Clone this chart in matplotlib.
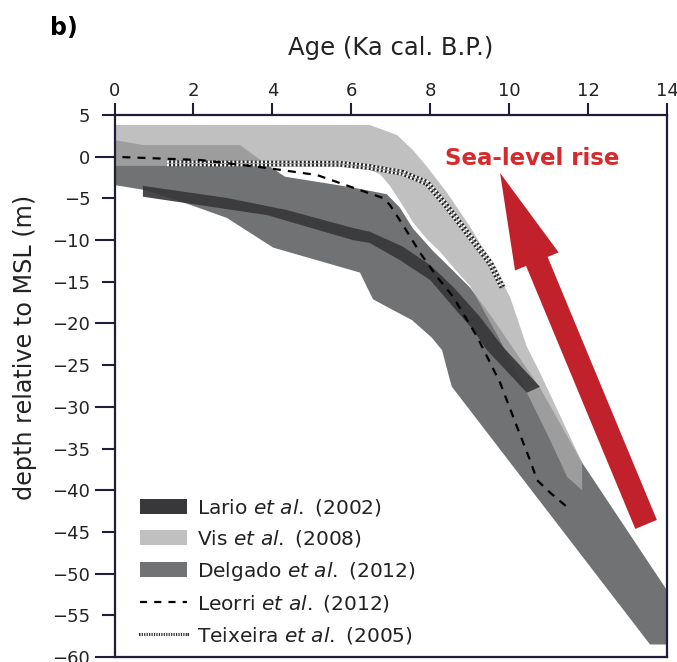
import numpy as np
import matplotlib
matplotlib.use("Agg")
import matplotlib.pyplot as plt
from matplotlib.patches import Patch
from matplotlib.lines import Line2D
from matplotlib.ticker import MultipleLocator

# Delgado et al. (2012) envelope
delgado_up_x = [0, 0.72, 3.18, 3.76, 4.32, 6.04, 6.9, 7.23, 7.56, 8.07, 8.5, 9.01, 9.57, 10.78, 11.85, 14.0]
delgado_up_y = [2.0, 1.4, 1.4, -0.6, -2.4, -3.7, -4.5, -6.1, -8.6, -11.3, -13.3, -15.7, -19.3, -27.7, -36.7, -52.0]
delgado_lo_x = [0, 0.77, 1.58, 2.85, 4.02, 6.22, 6.55, 7.06, 7.54, 8.04, 8.3, 8.5, 8.55, 13.57, 14.0]
delgado_lo_y = [-3.4, -4.0, -5.2, -7.35, -10.9, -13.9, -17.1, -18.4, -19.6, -21.7, -23.2, -26.8, -27.6, -58.5, -58.5]

# Vis et al. (2008) envelope
vis_up_x = [0, 6.47, 7.16, 7.56, 7.92, 8.43, 9.01, 9.52, 10.02, 10.45, 10.78, 11.85]
vis_up_y = [3.8, 3.8, 2.6, 0.8, -1.2, -4.35, -8.4, -12.4, -16.8, -22.8, -25.9, -36.7]
vis_lo_x = [0, 6.22, 6.73, 6.98, 7.31, 7.56, 7.92, 8.25, 8.68, 9.01, 9.77, 10.45, 11.04, 11.47, 11.85]
vis_lo_y = [-1.1, -1.1, -2.1, -3.5, -5.9, -7.85, -9.9, -11.4, -13.8, -15.5, -22.0, -28.3, -34.0, -38.4, -40.0]

# Lario et al. (2002) envelope
lario_up_x = [0.72, 2.85, 4.37, 6.04, 6.47, 7.31, 8.0, 8.58, 9.26, 9.84, 10.78]
lario_up_y = [-3.5, -4.95, -6.4, -8.55, -9.0, -10.8, -13.0, -15.6, -19.2, -22.8, -27.6]
lario_lo_x = [0.72, 3.86, 6.04, 6.47, 7.23, 8.0, 8.58, 9.09, 9.44, 10.45]
lario_lo_y = [-4.8, -7.0, -10.0, -10.35, -12.4, -14.8, -18.0, -20.8, -23.2, -28.3]

# Leorri et al. (2012) curve
leorri_x = [0.2, 2.17, 3.86, 5.13, 6.22, 6.8, 6.98, 7.31, 7.74, 8.17, 8.58, 9.19, 9.77, 10.2, 10.53, 10.71, 11.04, 11.49]
leorri_y = [-0.05, -0.4, -1.35, -2.2, -4.0, -4.95, -5.8, -8.2, -11.5, -14.4, -16.8, -21.6, -27.1, -32.4, -36.4, -38.8, -40.3, -42.1]

# Teixeira et al. (2005) curve
teix_x = [1.33, 5.71, 6.47, 7.31, 7.92, 8.43, 9.01, 9.52, 9.84]
teix_y = [-0.8, -0.85, -1.25, -1.95, -3.15, -6.0, -9.6, -12.75, -15.75]

# sea-level rise arrow (tail -> tip)
arrow_tail = (13.47, -44.1)
arrow_tip = (9.77, -1.95)

c_lario = "#38383a"
c_vis = "#acacac"
c_delgado = "#717274"
c_axis = "#1f1d3a"
c_red = "#c1212a"

fig = plt.figure(figsize=(6.77, 6.62), dpi=100)
ax = fig.add_axes([114.5 / 677, 5 / 662, 552.5 / 677, 542 / 662])

# bands
ax.fill(np.r_[delgado_up_x, delgado_lo_x[::-1]], np.r_[delgado_up_y, delgado_lo_y[::-1]],
        color=c_delgado, lw=0, zorder=1)
ax.fill(np.r_[vis_up_x, vis_lo_x[::-1]], np.r_[vis_up_y, vis_lo_y[::-1]],
        color=c_vis, alpha=0.76, lw=0, zorder=2)
ax.fill(np.r_[lario_up_x, lario_lo_x[::-1]], np.r_[lario_up_y, lario_lo_y[::-1]],
        color=c_lario, alpha=0.92, lw=0, zorder=3)

# Teixeira: textured line
ax.plot(teix_x, teix_y, color="#222222", lw=4.2, solid_capstyle="butt", zorder=4)
ax.plot(teix_x, teix_y, color="white", lw=4.2, dashes=(0.35, 0.35), zorder=4)
ax.plot(teix_x, teix_y, color="#9a9a9a", lw=0.7, zorder=4)

# Leorri: dashed
ax.plot(leorri_x, leorri_y, color="black", lw=1.6, dashes=(3.6, 3.2), zorder=5)

# arrow
ax.annotate("", xy=arrow_tip, xytext=arrow_tail,
            arrowprops=dict(arrowstyle="simple,head_length=69,head_width=34,tail_width=16.8",
                            mutation_scale=1, color=c_red, lw=0,
                            shrinkA=0, shrinkB=0), zorder=6)
ax.text(8.38, -1.0, "Sea-level rise", color="#d52b2f", fontsize=16.5,
        fontweight="bold", ha="left", va="baseline", zorder=7)

# axes
ax.set_xlim(0, 14)
ax.set_ylim(-60, 5)
ax.xaxis.set_major_locator(MultipleLocator(2))
ax.yaxis.set_major_locator(MultipleLocator(10))
ax.yaxis.set_minor_locator(MultipleLocator(5))
ax.xaxis.tick_top()
ax.tick_params(axis="x", which="both", direction="out", length=9, width=1.5,
               color=c_axis, labelsize=13, pad=1.5, labelcolor="#222222")
ax.tick_params(axis="y", which="major", direction="out", length=14.4, width=1.5,
               color=c_axis, labelsize=13, pad=3, labelcolor="#222222")
ax.tick_params(axis="y", which="minor", direction="out", length=9.4, width=1.5,
               color=c_axis, labelsize=13, pad=8, labelcolor="#222222", labelleft=True)
ax.yaxis.set_minor_formatter(matplotlib.ticker.ScalarFormatter())
for s in ax.spines.values():
    s.set_color(c_axis)
    s.set_linewidth(1.6)

ax.xaxis.set_label_position("top")
ax.set_xlabel("Age (Ka cal. B.P.)", fontsize=17.5, color="#222222", va="center")
ax.xaxis.set_label_coords(0.5, (657 - 48) / 542)
ax.set_ylabel("depth relative to MSL (m)", fontsize=17.2, color="#222222", va="center")
ax.yaxis.set_label_coords((25 - 114.5) / 552.5, (657 - 347) / 542)

fig.text(50 / 677, 1 - 28 / 662, "b)", fontsize=17, fontweight="bold", ha="left", va="center")

# legend
handles = [
    Patch(facecolor=c_lario, edgecolor="none"),
    Patch(facecolor="#c0c0c0", edgecolor="none"),
    Patch(facecolor=c_delgado, edgecolor="none"),
    Line2D([], [], color="black", lw=1.6, dashes=(3.2, 3.2)),
    (Line2D([], [], color="#333333", lw=2.2),
     Line2D([], [], color="white", lw=2.2, dashes=(0.4, 0.4))),
]
labels = [
    r"Lario $\it{et\ al.}$ (2002)",
    r"Vis $\it{et\ al.}$ (2008)",
    r"Delgado $\it{et\ al.}$ (2012)",
    r"Leorri $\it{et\ al.}$ (2012)",
    r"Teixeira $\it{et\ al.}$ (2005)",
]
leg = ax.legend(handles, labels, loc="lower left", bbox_to_anchor=(0.046, 0.021),
                frameon=False, fontsize=14.5, borderpad=0, borderaxespad=0,
                handlelength=2.34, handleheight=0.75, handletextpad=0.5,
                labelspacing=0.52)
for t in leg.get_texts():
    t.set_color("#222222")

fig.savefig("out.png", dpi=100)
